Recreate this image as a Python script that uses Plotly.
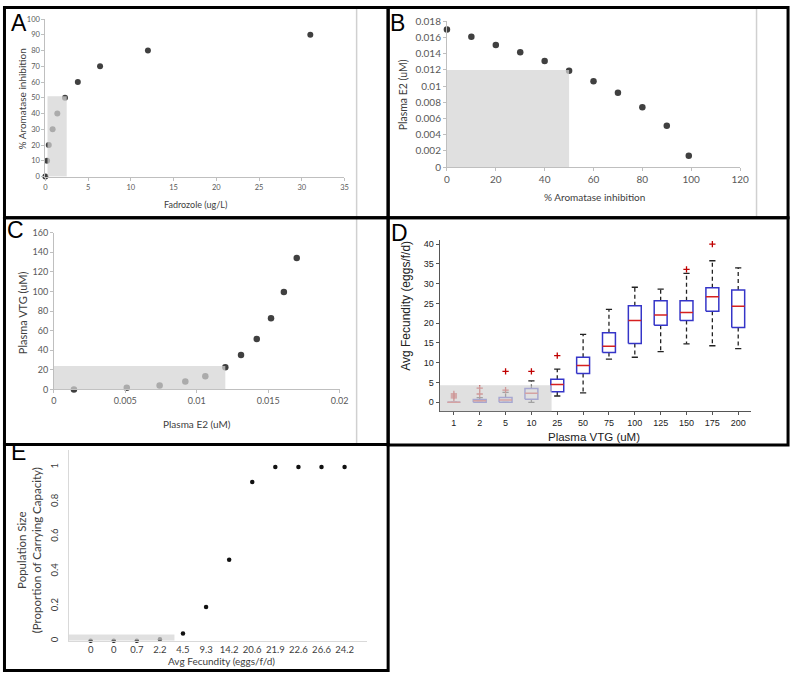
import plotly.graph_objects as go

W, H = 800, 678

# ---------------- Data ----------------
# Panel A
A_fadrozole = [0, 0.2, 0.4, 0.85, 1.4, 2.3, 3.8, 6.4, 12.0, 31.0]
A_inhibition = [0, 10, 20, 30, 40, 50, 60, 70, 80, 90]

# Panel B
B_inhibition = [0, 10, 20, 30, 40, 50, 60, 70, 80, 90, 99]
B_e2 = [0.0170, 0.0161, 0.0151, 0.0142, 0.0131, 0.0119, 0.0106, 0.0092, 0.0074, 0.0051, 0.0014]

# Panel C
C_e2 = [0.0014, 0.0051, 0.0074, 0.0092, 0.0106, 0.0120, 0.0131, 0.0142, 0.0152, 0.0161, 0.0170]
C_vtg = [0, 1.6, 4, 8, 13.3, 22.7, 35, 51.5, 72.5, 99.5, 134]

# Panel D (box plot statistics per plasma VTG level)
D_cats = ["1", "2", "5", "10", "25", "50", "75", "100", "125", "150", "175", "200"]
D_q1 = [0, 0, 0, 0.8, 2.7, 7.3, 12.6, 14.9, 19.5, 20.7, 23.0, 18.9]
D_med = [0, 0.4, 0.6, 2.3, 4.5, 9.3, 14.2, 20.7, 22.1, 22.7, 26.7, 24.3]
D_q3 = [0, 0.7, 1.2, 3.5, 5.8, 11.4, 17.6, 24.4, 25.7, 25.7, 29.0, 28.4]
D_wlo = [0, 0, 0, 0, 1.6, 2.4, 10.9, 11.4, 12.8, 14.8, 14.3, 13.6]
D_whi = [0, 1.2, 2.5, 5.4, 8.4, 17.2, 23.5, 29.1, 28.6, 32.6, 35.8, 34.0]
D_outliers = [[1.1, 1.6, 2.1], [2.1, 3.6], [3.1, 7.8], [7.8], [11.8], [], [], [], [], [33.6], [40.0], []]

# Panel E
E_labels = ["0", "0", "0.7", "2.2", "4.5", "9.3", "14.2", "20.6", "21.9", "22.6", "26.6", "24.2"]
E_pop = [0, 0, 0, 0.01, 0.043, 0.195, 0.467, 0.914, 1, 1, 1, 1]

# ---------------- Helpers ----------------
def dx(a, b):
    return [a / W, b / W]

def dy(top, bottom):
    return [1 - bottom / H, 1 - top / H]

def fmt(vals):
    return [f"{v:g}" for v in vals]

def frange(start, stop, step):
    n = int(round((stop - start) / step))
    return [round(start + i * step, 10) for i in range(n + 1)]

def excel_axis(domain, rng, tvals, anchor, fsize):
    return dict(domain=domain, range=rng, tickvals=tvals, ticktext=fmt(tvals), anchor=anchor,
                showgrid=False, zeroline=False, showline=True, linecolor="#bfbfbf", linewidth=1,
                ticks="outside", ticklen=3, tickcolor="#bfbfbf",
                tickfont=dict(family="Lato", size=fsize, color="#595959"), fixedrange=True)

fig = go.Figure()

DARK = "#404040"

# A
fig.add_trace(go.Scatter(x=A_fadrozole, y=A_inhibition, mode="markers", xaxis="x", yaxis="y",
                         marker=dict(size=6, color=DARK), cliponaxis=False, showlegend=False))
# B
fig.add_trace(go.Scatter(x=B_inhibition, y=B_e2, mode="markers", xaxis="x2", yaxis="y2",
                         marker=dict(size=6.5, color=DARK), cliponaxis=False, showlegend=False))
# C
fig.add_trace(go.Scatter(x=C_e2, y=C_vtg, mode="markers", xaxis="x3", yaxis="y3",
                         marker=dict(size=6.5, color=DARK), cliponaxis=False, showlegend=False))

# D box plot built from statistics
bw, cw = 0.25, 0.12
wx, wy, cx_, cy_, bx, by_, mx, my, ox, oy = [], [], [], [], [], [], [], [], [], []
for i in range(len(D_cats)):
    wx += [i, i, None, i, i, None]
    wy += [D_q3[i], D_whi[i], None, D_q1[i], D_wlo[i], None]
    cx_ += [i - cw, i + cw, None, i - cw, i + cw, None]
    cy_ += [D_whi[i], D_whi[i], None, D_wlo[i], D_wlo[i], None]
    bx += [i - bw, i + bw, i + bw, i - bw, i - bw, None]
    by_ += [D_q1[i], D_q1[i], D_q3[i], D_q3[i], D_q1[i], None]
    mx += [i - bw, i + bw, None]
    my += [D_med[i], D_med[i], None]
    for o in D_outliers[i]:
        ox.append(i)
        oy.append(o)

fig.add_trace(go.Scatter(x=wx, y=wy, mode="lines", xaxis="x4", yaxis="y4",
                         line=dict(color="#222222", width=1.3, dash="4px,3px"), showlegend=False, cliponaxis=False))
fig.add_trace(go.Scatter(x=cx_, y=cy_, mode="lines", xaxis="x4", yaxis="y4",
                         line=dict(color="#222222", width=1.3), showlegend=False, cliponaxis=False))
fig.add_trace(go.Scatter(x=bx, y=by_, mode="lines", xaxis="x4", yaxis="y4",
                         line=dict(color="#3535c8", width=1.5), showlegend=False, cliponaxis=False))
fig.add_trace(go.Scatter(x=mx, y=my, mode="lines", xaxis="x4", yaxis="y4",
                         line=dict(color="#d62020", width=1.5), showlegend=False, cliponaxis=False))
fig.add_trace(go.Scatter(x=ox, y=oy, mode="markers", xaxis="x4", yaxis="y4",
                         marker=dict(symbol="cross-thin-open", size=4.5, color="#c00000",
                                     line=dict(color="#c00000", width=1.3)),
                         showlegend=False, cliponaxis=False))

# E
E_pos = list(range(len(E_labels)))
fig.add_trace(go.Scatter(x=E_pos, y=E_pop, mode="markers", xaxis="x5", yaxis="y5",
                         marker=dict(size=4.5, color="#111111"), cliponaxis=False, showlegend=False))

layout = dict(
    width=W, height=H, autosize=False,
    margin=dict(l=0, r=0, t=0, b=0),
    paper_bgcolor="white", plot_bgcolor="rgba(0,0,0,0)",
    showlegend=False,
    xaxis=excel_axis(dx(43, 346.7), [0, 35], frange(0, 35, 5), "y", 7.5),
    yaxis=excel_axis(dy(13.3, 173.7), [0, 100], frange(0, 100, 10), "x", 7.5),
    xaxis2=excel_axis(dx(450.7, 748.3), [0, 120], frange(0, 120, 20), "y2", 10),
    yaxis2=excel_axis(dy(15.7, 164), [0, 0.018], frange(0, 0.018, 0.002), "x2", 10),
    xaxis3=excel_axis(dx(51.7, 341.7), [0, 0.02], frange(0, 0.02, 0.005), "y3", 9),
    yaxis3=excel_axis(dy(230.7, 390.3), [0, 160], frange(0, 160, 20), "x3", 9),
    xaxis4=dict(domain=dx(443.3, 759), range=[-0.55, 11.48], tickvals=list(range(len(D_cats))),
                ticktext=D_cats, anchor="y4", showgrid=False, zeroline=False, showline=True,
                linecolor="#555555", linewidth=1, ticks="outside", ticklen=3, tickcolor="#555555",
                tickfont=dict(family="Liberation Sans", size=9, color="#222222"), fixedrange=True),
    yaxis4=dict(domain=dy(238, 412.7), range=[-2.3, 41.1], tickvals=frange(0, 40, 5),
                ticktext=fmt(frange(0, 40, 5)), anchor="x4", showgrid=False, zeroline=False, showline=True,
                linecolor="#555555", linewidth=1, ticks="outside", ticklen=3, tickcolor="#555555",
                tickfont=dict(family="Liberation Sans", size=9, color="#222222"), fixedrange=True),
    xaxis5=dict(domain=dx(66.7, 370), range=[-0.95, 11.99], tickvals=E_pos, ticktext=E_labels,
                anchor="y5", showgrid=False, zeroline=False, showline=True, linecolor="#d9d9d9",
                linewidth=1, ticks="", tickfont=dict(family="Lato", size=9.5, color="#404040"), fixedrange=True),
    yaxis5=dict(domain=dy(451.7, 646.3), range=[0, 1.1], tickvals=frange(0, 1, 0.2),
                ticktext=fmt(frange(0, 1, 0.2)), tickangle=-90, anchor="x5", showgrid=False,
                zeroline=False, showline=True, linecolor="#d9d9d9", linewidth=1, ticks="",
                ticklabelstandoff=6,
                tickfont=dict(family="Lato", size=9.5, color="#404040"), fixedrange=True),
)

def px(x):
    return x / W

def py(y):
    return 1 - y / H

ann = []
def title(text, x, y, size, family="Lato", color="#404040", angle=0):
    ann.append(dict(text=text, x=px(x), y=py(y), xref="paper", yref="paper", showarrow=False,
                    xanchor="center", yanchor="middle", textangle=angle,
                    font=dict(family=family, size=size, color=color)))

# axis titles
title("% Aromatase inhibition", 19, 94.5, 10, angle=-90)
title("Fadrozole (ug/L)", 195, 202, 9)
title("Plasma E2 (uM)", 407, 90, 10.5, angle=-90)
title("% Aromatase inhibition", 600, 194, 10)
title("Plasma VTG (uM)", 20, 312, 11, angle=-90)
title("Plasma E2 (uM)", 197, 425.7, 10)
title("Avg Fecundity (eggs/f/d)", 408.3, 305, 12, family="Liberation Sans", color="#222222", angle=-90)
title("Plasma VTG (uM)", 600, 438.5, 11.5, family="Liberation Sans", color="#222222")
title("Population Size<br>(Proportion of Carrying Capacity)", 26.5, 554, 11.5, angle=-90)
title("Avg Fecundity (eggs/f/d)", 221.7, 667.3, 10)

# panel letters
for lab, lx, ly in [("A", 16, 17), ("B", 400, 17), ("C", 12.5, 228.5), ("D", 402.5, 231), ("E", 16, 454)]:
    title(lab, lx, ly, 23, family="Liberation Sans", color="black")

layout["annotations"] = ann

shapes = []
# shaded regions (semi-transparent, drawn above marks)
GRAY = "rgba(212,212,212,0.72)"
for xr, yr, x0, x1, y0, y1 in [("x", "y", 0.25, 2.5, 0, 51),
                                ("x2", "y2", 0, 50, 0, 0.012),
                                ("x3", "y3", 0, 0.012, 0, 24),
                                ("x4", "y4", -0.55, 3.78, -2.3, 4.3),
                                ("x5", "y5", -0.95, 3.63, 0, 0.036)]:
    shapes.append(dict(type="rect", xref=xr, yref=yr, x0=x0, x1=x1, y0=y0, y1=y1,
                       fillcolor=GRAY, line=dict(width=0), layer="above"))

# thin grey separator lines
for lx, y0, y1 in [(359, 0, 446), (765, 0, 215)]:
    shapes.append(dict(type="line", xref="paper", yref="paper", x0=px(lx), x1=px(lx), y0=py(y0), y1=py(y1),
                       line=dict(color="#d0d0d0", width=1.5)))

# panel frames
for x0, y0, x1, y1 in [(1.5, 1.5, 391, 215.5), (391, 1.5, 797, 215.5), (1.5, 215.5, 391, 446.5),
                       (391, 215.5, 797, 447), (1.5, 446.5, 391, 676.5)]:
    shapes.append(dict(type="rect", xref="paper", yref="paper", x0=px(x0), x1=px(x1), y0=py(y1), y1=py(y0),
                       line=dict(color="black", width=3), fillcolor="rgba(0,0,0,0)"))

layout["shapes"] = shapes
fig.update_layout(**layout)

fig.write_html("out.html", config={"displayModeBar": False},
               post_script="document.body.style.margin='0';document.body.style.overflow='hidden';")
